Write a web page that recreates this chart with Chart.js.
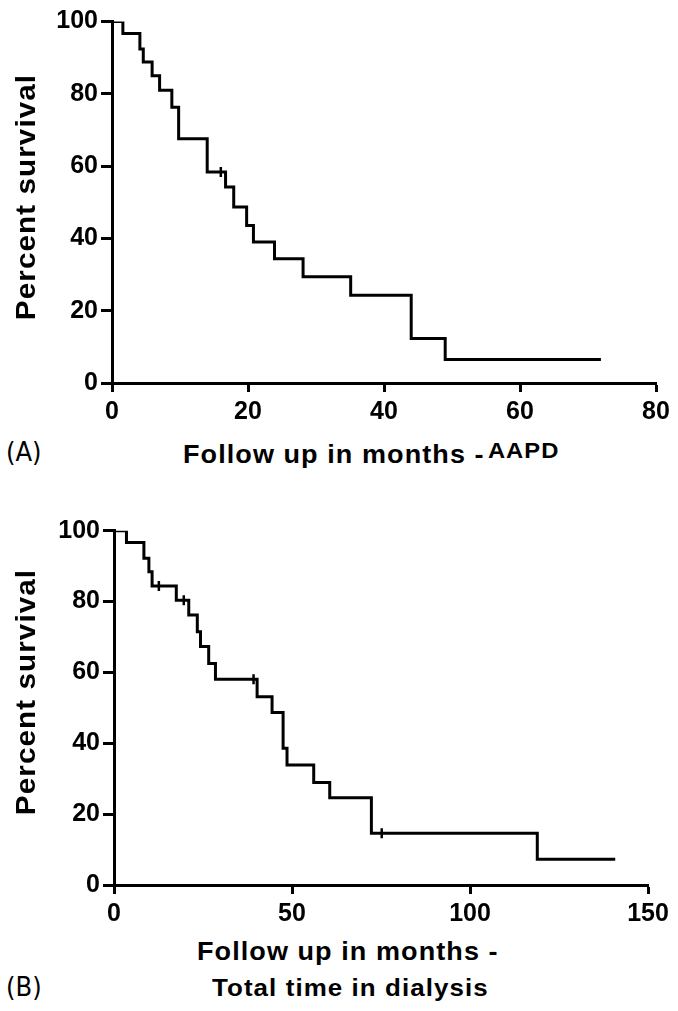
<!DOCTYPE html>
<html>
<head>
<meta charset="utf-8">
<script src="https://cdn.jsdelivr.net/npm/chart.js@4.4.0/dist/chart.umd.min.js"></script>
<style>
  body { margin: 0; background: #fff; width: 678px; height: 1011px; position: relative; overflow: hidden; }
  canvas { position: absolute; left: 0; }
  .lbl { position: absolute; font-family: 'Liberation Sans', Arial, sans-serif; font-weight: bold; color: #000; white-space: nowrap; line-height: 30px; letter-spacing: 1px; transform: scaleX(1.08); transform-origin: left center; }
  .panel { position: absolute; font-family: 'DejaVu Sans Condensed', 'DejaVu Sans', sans-serif; font-size: 27px; line-height: 30px; color: #000; }
</style>
</head>
<body>
<canvas id="chartA" width="678" height="430" style="top:0"></canvas>
<canvas id="chartB" width="678" height="430" style="top:500px"></canvas>

<div class="panel" style="left:6px; top:437px">(A)</div>
<div class="lbl" style="left:183px; top:436px; font-size:25px">Follow up in months -<span style="font-size:22px; vertical-align:5px; margin-left:3px">AAPD</span></div>

<div class="panel" style="left:6px; top:972px">(B)</div>
<div class="lbl" style="left:197px; top:936px; font-size:25px">Follow up in months -</div>
<div class="lbl" style="left:212px; top:973px; font-size:24px">Total time in dialysis</div>

<script>
// (A) AAPD: time of each step (months) and survival after it (%)
const monthsA = [0, 1.6, 4.1, 4.6, 5.9, 7.0, 8.8, 9.8, 14.0, 16.7, 17.9, 19.8, 20.8, 23.9, 28.1, 35.1, 44.0, 49.0, 71.9];
const survA   = [100, 96.7, 92.4, 88.8, 85.0, 81.0, 76.3, 67.6, 58.4, 54.2, 48.7, 43.6, 39.0, 34.4, 29.4, 24.3, 12.3, 6.5, 6.5];
const censorMonthsA = [16.0];
const censorSurvA   = [58.4];
const xTicksA = [0, 20, 40, 60, 80];

// (B) total time in dialysis
const monthsB = [0, 3.5, 8.4, 9.8, 10.7, 17.5, 21.0, 23.4, 24.3, 26.6, 28.5, 40.2, 44.4, 47.5, 48.6, 56.1, 60.6, 72.3, 118.9, 140.8];
const survB   = [100, 96.7, 92.2, 88.4, 84.4, 80.4, 76.2, 71.5, 67.3, 62.5, 58.1, 53.1, 48.7, 38.6, 33.9, 28.9, 24.6, 14.6, 7.3, 7.3];
const censorMonthsB = [12.6, 19.6, 39.2, 75.2];
const censorSurvB   = [84.4, 80.4, 58.1, 14.6];
const xTicksB = [0, 50, 100, 150];

const yTicks = [0, 20, 40, 60, 80, 100];
const yTitle = 'Percent survival';

const tickFont = { family: "'Liberation Sans', Arial, sans-serif", size: 25, weight: 'bold' };

// y title drawn by hand so it can get the wide lettering of the original
const yTitlePlugin = {
  id: 'yTitle',
  afterDraw(chart, args, opts) {
    const ctx = chart.ctx;
    ctx.save();
    ctx.font = 'bold 28px "Liberation Sans", Arial, sans-serif';
    ctx.letterSpacing = '1px';
    ctx.fillStyle = '#000';
    ctx.textAlign = 'center';
    ctx.textBaseline = 'middle';
    ctx.translate(opts.x, opts.y);
    ctx.rotate(-Math.PI / 2);
    ctx.scale(1.06, 1);
    ctx.fillText(yTitle, 0, 0);
    ctx.restore();
  }
};

function makeChart(id, months, surv, cMonths, cSurv, xTicks, box) {
  const line = months.map((m, i) => ({ x: m, y: surv[i] }));
  const cens = cMonths.map((m, i) => ({ x: m, y: cSurv[i] }));
  return new Chart(document.getElementById(id), {
    type: 'line',
    data: {
      datasets: [
        {
          data: line,
          stepped: 'before',
          borderColor: '#000',
          borderWidth: 3,
          pointRadius: 0,
          fill: false
        },
        {
          type: 'scatter',
          data: cens,
          pointStyle: 'line',
          rotation: 90,
          pointRadius: 5,
          borderColor: '#000',
          borderWidth: 2.5
        }
      ]
    },
    plugins: [yTitlePlugin],
    options: {
      responsive: false,
      animation: false,
      devicePixelRatio: 1,
      layout: { padding: { left: 0, top: box.top, right: box.right, bottom: 0 } },
      plugins: {
        legend: { display: false },
        tooltip: { enabled: false },
        yTitle: { x: 27, y: box.titleY }
      },
      scales: {
        x: {
          type: 'linear',
          min: xTicks[0],
          max: xTicks[xTicks.length - 1],
          afterBuildTicks: s => { s.ticks = xTicks.map(v => ({ value: v })); },
          afterFit: s => { s.height = box.xh; },
          grid: { display: true, drawOnChartArea: false, tickLength: 9, tickWidth: 3, tickColor: '#000' },
          border: { color: '#000', width: 3 },
          ticks: { color: '#000', font: tickFont, padding: 5, maxRotation: 0 }
        },
        y: {
          min: 0,
          max: 100,
          afterBuildTicks: s => { s.ticks = yTicks.map(v => ({ value: v })); },
          afterFit: s => { s.width = box.left; },
          grid: { display: true, drawOnChartArea: false, tickLength: 11, tickWidth: 3, tickColor: '#000' },
          border: { color: '#000', width: 3 },
          ticks: { color: '#000', font: tickFont, padding: 3 }
        }
      }
    }
  });
}

makeChart('chartA', monthsA, survA, censorMonthsA, censorSurvA, xTicksA, { left: 112, top: 21.5, right: 22, xh: 47, titleY: 197 });
makeChart('chartB', monthsB, survB, censorMonthsB, censorSurvB, xTicksB, { left: 114, top: 30.7, right: 30, xh: 45, titleY: 192 });
</script>
</body>
</html>
